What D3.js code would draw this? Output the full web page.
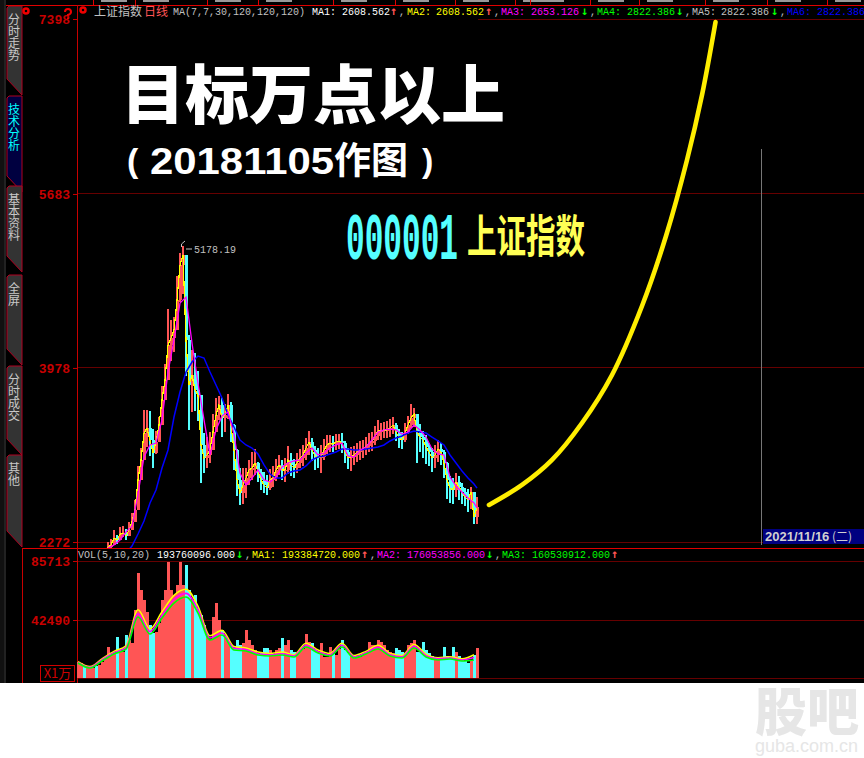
<!DOCTYPE html>
<html>
<head>
<meta charset="utf-8">
<script src="https://cdn.jsdelivr.net/npm/d3@7"></script>
<style>
  html, body { margin: 0; padding: 0; background: #fff; }
  svg { display: block; }
  text { font-family: "Liberation Mono", monospace; }
  .cjk { font-family: "Noto Sans CJK SC", sans-serif; }
  .sans { font-family: "Liberation Sans", sans-serif; }
  .arrow { font-family: "DejaVu Sans Mono", monospace; }
</style>
</head>
<body>
<svg id="chart" width="864" height="758"></svg>
<script>
// Shanghai composite daily chart with the hand drawn "10000 points" target

var priceTicks = [7398, 5683, 3978, 2272];
var volumeTicks = [85713, 42490];

// yellow line, one value per bar
var ma7 = [2050,2060,2045,2070,2085,2100,2090,2120,2150,2180,2223,2243,2311,2292,2350,2360,2331,2390,2468,2586,
  2880,3076,3340,3389,3272,3144,3252,3419,3664,3860,4203,4271,4350,4644,4987,5085,4252,3811,3909,3762,
  3713,3223,3095,3125,3174,3350,3517,3615,3487,3517,3615,3419,3174,2880,2752,2831,2899,2978,2997,3046,
  2958,2880,2831,2801,2880,2899,2978,3027,2978,2978,3076,3027,2997,3046,3095,3125,3193,3252,3174,3115,
  3095,3105,3174,3223,3242,3232,3252,3262,3242,3154,3095,3105,3125,3154,3174,3184,3213,3242,3262,3311,
  3360,3360,3370,3370,3389,3419,3350,3291,3272,3340,3419,3487,3526,3350,3301,3272,3203,3154,3095,3125,
  3184,3154,3046,2880,2801,2782,2860,2811,2762,2713,2684,2762,2517,2615];

var highs = [2070,2085,2065,2095,2105,2125,2115,2145,2175,2215,2270,2300,2390,2340,2420,2430,2400,2470,2560,2680,
  3020,3190,3570,3570,3560,3380,3360,3500,3800,4020,4560,4450,4480,4880,5100,5178,4900,4300,4150,4120,
  3950,3700,3340,3300,3350,3530,3680,3700,3680,3620,3720,3640,3430,3180,3000,3000,3000,3080,3150,3180,
  3060,2990,2960,2930,2990,3020,3090,3120,3080,3100,3210,3140,3090,3140,3180,3220,3290,3360,3290,3210,
  3190,3220,3280,3320,3320,3310,3330,3330,3340,3260,3190,3200,3210,3240,3260,3270,3300,3340,3350,3410,
  3470,3440,3450,3460,3480,3500,3440,3380,3350,3440,3510,3620,3590,3500,3430,3360,3320,3240,3190,3220,
  3270,3240,3170,3060,2920,2900,2950,2920,2850,2800,2790,2811,2680,2710];

var lows = [2030,2040,2025,2050,2065,2080,2070,2100,2130,2160,2190,2210,2270,2250,2310,2320,2290,2350,2420,2490,
  2700,2900,3100,3200,3110,3000,3130,3280,3480,3680,3960,4050,4130,4380,4620,4700,3900,3370,3550,3560,
  3460,2850,2950,3000,3050,3200,3380,3470,3300,3350,3480,3250,2980,2720,2635,2640,2700,2830,2880,2930,
  2860,2780,2750,2730,2780,2810,2870,2930,2880,2860,2940,2920,2900,2950,3000,3020,3080,3120,3070,2980,
  3000,2950,3080,3130,3150,3150,3170,3180,3140,3050,2990,2970,3030,3060,3080,3100,3120,3150,3160,3220,
  3270,3270,3290,3290,3300,3330,3260,3190,3180,3250,3330,3390,3400,3046,3150,3100,3040,3020,2960,3000,
  3060,3030,2900,2690,2650,2640,2710,2680,2640,2620,2570,2600,2448,2450];

// slower averages, read every second bar
var ma30 = [2213,2243,2292,2370,2429,2742,3105,3223,3242,3468,3938,4252,4614,4673,4222,3830,3468,3125,3370,3507,
  3546,3330,2948,2831,2899,2978,2880,2860,2909,3007,3046,3066,3076,3144,3193,3125,3144,3193,3223,3242,
  3115,3105,3174,3203,3272,3350,3370,3379,3370,3330,3350,3419,3370,3301,3184,3135,3125,2909,2821,2762,
  2703,2654,2605];
var ma30Days = d3.range(10, 134, 2).concat([133]);

var ma120 = [2164,2233,2350,2478,2654,2782,2997,3174,3497,3742,3938,4036,4095,4075,3938,3811,3683,3517,3399,3272,
  3223,3193,3134,3027,2938,2899,2899,2948,2968,2978,3017,3076,3105,3115,3134,3154,3184,3184,3174,3174,
  3184,3193,3203,3223,3262,3291,3311,3340,3360,3350,3340,3301,3262,3223,3125,3046,2968,2899,2840,2800];
var ma120Days = d3.range(16, 134, 2).concat([133]);

// the thick target curve
var targetDays = [137, 148, 158, 168, 178, 188, 196, 203, 208, 212.5];
var targetPrices = [2635, 2831, 3076, 3438, 3909, 4585, 5271, 6016, 6653, 7368];

var volumes = [11700,11000,9500,8100,7300,7000,8800,9800,12000,14000,
  22700,17000,17600,30000,20000,19000,31500,27800,26000,49800,
  76900,64500,57100,48400,38800,33000,34000,40000,57100,64500,
  85000,64500,60800,68100,85000,68100,82800,64500,57100,60800,
  49800,46200,38800,30000,28000,44700,54900,42500,35200,31000,
  27800,24200,21000,27800,24200,25600,35200,27800,24200,20500,
  17500,19000,22000,22000,20500,17000,20500,22000,29300,24200,
  27800,20500,19000,18300,20000,21000,32200,26400,25600,21000,
  18300,25600,15500,15500,22700,17500,17000,21000,27800,20500,
  18300,16100,15400,15000,15500,16500,19000,26400,24200,24200,
  27800,26400,24200,20500,19000,18300,22000,20500,19000,16900,
  24200,25600,27800,19000,20500,26400,20500,18300,16100,15400,
  14700,14700,22700,16100,14700,22700,19000,16100,14700,12500,
  11000,13200,16900,22000];

// volume averages, read every fourth bar
var volMa5 = [12000,8300,14000,19500,23500,50000,36000,48500,60500,65000,52500,31000,35000,23000,22000,19000,18000,19000,17000,25500,
  20500,18000,25500,16500,19500,24000,18000,16500,24500,17500,14800,15500,14000,17000];
var volMa10 = [11500,7800,13300,18500,22300,47000,34000,46000,57500,62000,50000,29300,33000,21700,20800,17800,17000,17800,16200,24000,
  19300,17000,24000,15500,18500,22500,17000,15500,23200,16400,14000,14700,13200,15000];
var volMa20 = [11000,7300,12500,17600,21200,44700,32200,44000,54900,59300,47600,27800,31500,20500,19800,16800,16100,16800,15400,22700,
  18300,16100,22700,14700,17600,21200,16100,14700,22000,15400,13200,13900,12500,13200];
var volMaDays = d3.range(0, 134, 4);

var tabs = [
  {name: "分时走势", top: 6, bottom: 95},
  {name: "技术分析", top: 96, bottom: 192, active: true},
  {name: "基本资料", top: 186, bottom: 272},
  {name: "全屏", top: 275, bottom: 365},
  {name: "分时成交", top: 366, bottom: 455},
  {name: "其他", top: 455, bottom: 547}
];

var headerItems = [
  {x: 173, text: "MA(7,7,30,120,120,120)", color: "#c0c0c0"},
  {x: 312, text: "MA1:", color: "#fff"}, {x: 342, text: "2608.562", color: "#fff"}, {x: 390, text: "↑", color: "#ff5555", arrow: true}, {x: 399, text: ",", color: "#c0c0c0"},
  {x: 407, text: "MA2:", color: "#ffff00"}, {x: 436, text: "2608.562", color: "#ffff00"}, {x: 485, text: "↑", color: "#ff5555", arrow: true}, {x: 494, text: ",", color: "#c0c0c0"},
  {x: 501, text: "MA3:", color: "#ff00ff"}, {x: 531, text: "2653.126", color: "#ff00ff"}, {x: 581, text: "↓", color: "#00ff00", arrow: true}, {x: 590, text: ",", color: "#c0c0c0"},
  {x: 597, text: "MA4:", color: "#00ff00"}, {x: 627, text: "2822.386", color: "#00ff00"}, {x: 676, text: "↓", color: "#00ff00", arrow: true}, {x: 685, text: ",", color: "#c0c0c0"},
  {x: 692, text: "MA5:", color: "#c0c0c0"}, {x: 721, text: "2822.386", color: "#c0c0c0"}, {x: 771, text: "↓", color: "#00ff00", arrow: true}, {x: 780, text: ",", color: "#c0c0c0"},
  {x: 787, text: "MA6:", color: "#0000ff"}, {x: 817, text: "2822.386", color: "#0000ff"}
];

var volHeaderItems = [
  {x: 78, text: "VOL(5,10,20)", color: "#c0c0c0"},
  {x: 157, text: "193760096.000", color: "#fff"}, {x: 236, text: "↓", color: "#00ff00", arrow: true}, {x: 245, text: ",", color: "#c0c0c0"},
  {x: 252, text: "MA1:", color: "#ffff00"}, {x: 282, text: "193384720.000", color: "#ffff00"}, {x: 361, text: "↑", color: "#ff5555", arrow: true}, {x: 370, text: ",", color: "#c0c0c0"},
  {x: 377, text: "MA2:", color: "#ff00ff"}, {x: 407, text: "176053856.000", color: "#ff00ff"}, {x: 486, text: "↓", color: "#00ff00", arrow: true}, {x: 495, text: ",", color: "#c0c0c0"},
  {x: 502, text: "MA3:", color: "#00ff00"}, {x: 532, text: "160530912.000", color: "#00ff00"}, {x: 611, text: "↑", color: "#ff5555", arrow: true}
];

var tabDividers = [93, 135, 207, 258, 333, 395, 455, 515, 530, 590, 639, 705, 767, 827];

var svg = d3.select("#chart");
var RED = "#ff5555", CYAN = "#55ffff", AXIS = "#c80000", GRID = "#660000";

var x = d3.scaleLinear().domain([0, 133]).range([78, 477]);
var y = d3.scaleLinear().domain([2272, 7398]).range([542, 19]);
var yVol = d3.scaleLinear().domain([0, 42490, 85713]).range([678, 620, 561]);

svg.append("rect").attr("width", 864).attr("height", 683).attr("fill", "#000");

///////////////////////////////////////////////////////////////////////////////
// Left hand tabs

svg.append("rect").attr("x", 0).attr("y", 0).attr("width", 4).attr("height", 683).attr("fill", "#111");
svg.append("rect").attr("x", 4).attr("y", 0).attr("width", 2).attr("height", 683).attr("fill", "#222");

tabs.forEach(function (tab) {
  var d = "M9," + tab.top + "H22V" + tab.bottom + "L7," + (tab.bottom - 16) + "V" + (tab.top + 2) + "Z";
  svg.append("path").attr("d", d)
    .attr("fill", tab.active ? "#000040" : "#333")
    .attr("stroke", "#b00020").attr("stroke-width", 1);
  svg.append("text").attr("class", "cjk")
    .attr("x", 14).attr("y", tab.top + 7)
    .attr("font-size", 12)
    .attr("style", "writing-mode:vertical-rl;letter-spacing:0.2px")
    .attr("fill", tab.active ? "#00ffff" : "#c8c8c8").text(tab.name);
});

///////////////////////////////////////////////////////////////////////////////
// Frame and grid

[y(5683), y(3978), y(2272), yVol(85713), yVol(42490), yVol(0)].forEach(function (gy) {
  svg.append("line").attr("x1", 77).attr("x2", 864).attr("y1", gy).attr("y2", gy)
    .attr("stroke", GRID).attr("shape-rendering", "crispEdges");
});
svg.append("line").attr("x1", 478).attr("x2", 864).attr("y1", 19).attr("y2", 19)
  .attr("stroke", GRID).attr("shape-rendering", "crispEdges");

svg.append("line").attr("x1", 6).attr("x2", 864).attr("y1", 5.5).attr("y2", 5.5).attr("stroke", "#e00000");
svg.append("line").attr("x1", 22).attr("x2", 864).attr("y1", 548.5).attr("y2", 548.5).attr("stroke", "#e00000");
svg.append("line").attr("x1", 77.5).attr("x2", 77.5).attr("y1", 5).attr("y2", 683).attr("stroke", "#c80000");
svg.append("line").attr("x1", 22.5).attr("x2", 22.5).attr("y1", 548).attr("y2", 683).attr("stroke", "#c80000");

tabDividers.forEach(function (dx) {
  svg.append("line").attr("x1", dx + 0.5).attr("x2", dx + 0.5).attr("y1", 0).attr("y2", 5).attr("stroke", "#e00000");
  svg.append("rect").attr("x", dx + 8).attr("y", 0).attr("width", 26).attr("height", 2).attr("fill", "#999");
});

///////////////////////////////////////////////////////////////////////////////
// Axes

function styleAxis(g) {
  g.select(".domain").remove();
  g.selectAll("line").attr("stroke", AXIS);
  g.selectAll("text").attr("fill", AXIS).attr("font-size", 13).attr("font-weight", "bold")
    .attr("font-family", "Liberation Mono");
}

svg.append("g").attr("transform", "translate(77,0)")
  .call(d3.axisLeft(y).tickValues(priceTicks).tickFormat(d3.format("d")).tickSize(4).tickPadding(3))
  .call(styleAxis);
svg.append("g").attr("transform", "translate(77,0)")
  .call(d3.axisLeft(yVol).tickValues(volumeTicks).tickFormat(d3.format("d")).tickSize(4).tickPadding(3))
  .call(styleAxis);

///////////////////////////////////////////////////////////////////////////////
// Candles

var clip = svg.append("clipPath").attr("id", "priceClip");
clip.append("rect").attr("x", 78).attr("y", 6).attr("width", 786).attr("height", 542);

var price = svg.append("g").attr("clip-path", "url(#priceClip)");

function isUp(i) {
  return i === 0 || ma7[i] >= ma7[i - 1];
}

ma7.forEach(function (close, i) {
  var color = isUp(i) ? RED : CYAN;
  price.append("rect")
    .attr("x", x(i) - 1).attr("width", 2)
    .attr("y", y(highs[i])).attr("height", y(lows[i]) - y(highs[i]))
    .attr("fill", color).attr("shape-rendering", "crispEdges");
  if (i > 0) {
    var top = Math.max(close, ma7[i - 1]), bottom = Math.min(close, ma7[i - 1]);
    price.append("rect")
      .attr("x", x(i) - 1.5).attr("width", 3)
      .attr("y", y(top)).attr("height", Math.max(1, y(bottom) - y(top)))
      .attr("fill", color).attr("shape-rendering", "crispEdges");
  }
});

function drawLine(parent, days, values, scale, color, width) {
  var line = d3.line()
    .x(function (d, i) { return x(days[i]); })
    .y(function (d) { return scale(d); });
  return parent.append("path").datum(values).attr("d", line)
    .attr("fill", "none").attr("stroke", color).attr("stroke-width", width);
}

drawLine(price, d3.range(ma7.length), ma7, y, "#ffff00", 1.2).attr("shape-rendering", "crispEdges");
drawLine(price, ma120Days, ma120, y, "#0000ff", 1.5);
drawLine(price, ma30Days, ma30, y, "#ff00ff", 1.3);

// target curve
drawLine(svg, targetDays, targetPrices, y, "#ffee00", 4.6)
  .attr("stroke-linecap", "round")
  .attr("d", d3.line()
    .x(function (d, i) { return x(targetDays[i]); })
    .y(function (d) { return y(d); })
    .curve(d3.curveCatmullRom)(targetPrices));

// high marker
svg.append("path").attr("d", "M181.5,247V244L185,241M186,249H192").attr("fill", "none").attr("stroke", "#c0c0c0");
svg.append("text").attr("x", 194).attr("y", 253).attr("font-size", 10).attr("fill", "#c0c0c0").text("5178.19");

///////////////////////////////////////////////////////////////////////////////
// Volume

var volGroup = svg.append("g");
volumes.forEach(function (v, i) {
  volGroup.append("rect")
    .attr("x", x(i) - 1.5).attr("width", 3)
    .attr("y", yVol(v)).attr("height", yVol(0) - yVol(v))
    .attr("fill", isUp(i) ? RED : CYAN).attr("shape-rendering", "crispEdges");
});
[[volMa5, "#ffff00"], [volMa10, "#ff00ff"], [volMa20, "#00ff00"]].forEach(function (row) {
  var line = d3.line()
    .x(function (d, i) { return x(volMaDays[i]); })
    .y(function (d) { return yVol(d); })
    .curve(d3.curveMonotoneX);
  volGroup.append("path").attr("d", line(row[0]))
    .attr("fill", "none").attr("stroke", row[1]).attr("stroke-width", 1.6);
});

svg.append("rect").attr("x", 40.5).attr("y", 665.5).attr("width", 34).attr("height", 16)
  .attr("fill", "none").attr("stroke", "#d00000");
svg.append("text").attr("class", "cjk").attr("x", 57.5).attr("y", 678).attr("text-anchor", "middle")
  .attr("font-size", 13).attr("fill", "#d00000").text("X1万");

///////////////////////////////////////////////////////////////////////////////
// Header rows

function drawItems(items, baseline) {
  items.forEach(function (item) {
    svg.append("text").attr("x", item.x).attr("y", baseline)
      .attr("class", item.arrow ? "arrow" : null)
      .attr("font-size", item.arrow ? 12 : 10)
      .attr("font-weight", item.arrow ? "bold" : null)
      .attr("fill", item.color).text(item.text);
  });
}

drawItems(headerItems, 15);
drawItems(volHeaderItems, 558);

svg.append("text").attr("class", "cjk").attr("x", 94).attr("y", 16).attr("font-size", 12)
  .attr("fill", "#c0c0c0").text("上证指数");
svg.append("text").attr("class", "cjk").attr("x", 144).attr("y", 16).attr("font-size", 12)
  .attr("fill", RED).text("日线");

// small gear icons and the question mark
[[26, 11], [83, 10]].forEach(function (p) {
  svg.append("circle").attr("cx", p[0]).attr("cy", p[1]).attr("r", 2.5)
    .attr("fill", "none").attr("stroke", "#f00000").attr("stroke-width", 2.5);
});
svg.append("path").attr("d", "M65,12Q65,9 68,9Q71,9 71,12Q71,14 68,15V16M68,17.5V19")
  .attr("fill", "none").attr("stroke", "#f00000").attr("stroke-width", 2);

///////////////////////////////////////////////////////////////////////////////
// Annotations

svg.append("text").attr("class", "cjk").attr("x", 121).attr("y", 118)
  .attr("font-size", 64).attr("font-weight", 900).attr("fill", "#fff").text("目标万点以上");
svg.append("text").attr("class", "sans").attr("x", 127).attr("y", 172)
  .attr("font-size", 34).attr("font-weight", 700).attr("fill", "#fff").text("(");
svg.append("text").attr("class", "sans").attr("x", 150).attr("y", 174)
  .attr("font-size", 36).attr("font-weight", 700).attr("textLength", 184)
  .attr("lengthAdjust", "spacingAndGlyphs").attr("fill", "#fff").text("20181105");
svg.append("text").attr("class", "cjk").attr("x", 334).attr("y", 174)
  .attr("font-size", 37).attr("font-weight", 700).attr("fill", "#fff").text("作图");
svg.append("text").attr("class", "sans").attr("x", 422).attr("y", 172)
  .attr("font-size", 34).attr("font-weight", 700).attr("fill", "#fff").text(")");

svg.append("text").attr("transform", "translate(346,259) scale(1,2.25)")
  .attr("font-size", 30).attr("font-weight", 700).attr("textLength", 112)
  .attr("lengthAdjust", "spacingAndGlyphs").attr("fill", CYAN).text("000001");
svg.append("text").attr("class", "cjk").attr("transform", "translate(467,253) scale(1,1.55)")
  .attr("font-size", 29.5).attr("font-weight", 700).attr("fill", "#ffff55").text("上证指数");

// cursor line and date box
svg.append("line").attr("x1", 761.5).attr("x2", 761.5).attr("y1", 149).attr("y2", 545).attr("stroke", "#777");
svg.append("rect").attr("x", 763).attr("y", 529).attr("width", 101).attr("height", 15).attr("fill", "#000080");
svg.append("text").attr("class", "sans").attr("x", 765).attr("y", 541).attr("font-size", 13).attr("font-weight", "bold")
  .attr("fill", "#d0d0d0").text("2021/11/16");
svg.append("text").attr("class", "cjk").attr("x", 832).attr("y", 541).attr("font-size", 12)
  .attr("fill", "#d0d0d0").text("(二)");

// site watermark below the screenshot
svg.append("text").attr("class", "cjk").attr("x", 755).attr("y", 731).attr("font-size", 52)
  .attr("font-weight", 900).attr("fill", "#e6e6e6").text("股吧");
svg.append("text").attr("class", "sans").attr("x", 755).attr("y", 752)
  .attr("font-size", 18).attr("fill", "#e6e6e6").text("guba.com.cn");
</script>
</body>
</html>
